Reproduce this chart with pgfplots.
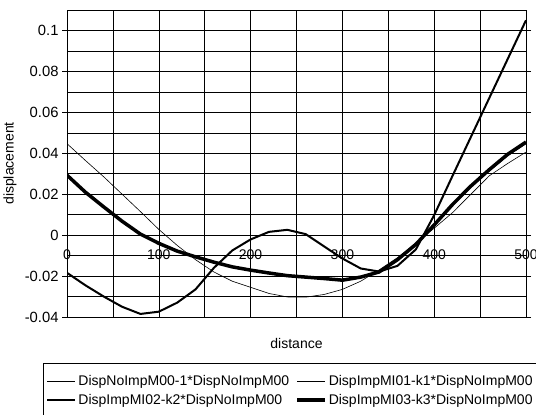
\documentclass[border=0pt]{standalone}
\usepackage{pgfplots}
\pgfplotsset{compat=1.18}
\usepackage{fontspec}
\setmainfont{Liberation Sans}
\begin{document}
\begin{tikzpicture}
\begin{axis}[
 width=459bp, height=307bp, scale only axis,
 xmin=0, xmax=500, ymin=-0.04, ymax=0.11,
 xtick={0,100,...,500}, minor x tick num=1,
 ytick={-0.04,-0.02,0,0.02,0.04,0.06,0.08,0.1}, minor y tick num=1,
 grid=both,
 major grid style={black, line width=0.6bp},
 minor grid style={black, line width=0.6bp},
 axis line style={black, line width=0.8bp},
 tick align=outside,
 xtick style={draw=none}, ytick style={black, line width=0.6bp},
 major tick length=5bp, minor tick length=0pt,
 /pgf/number format/assume math mode=true,
 xticklabel style={font=\fontsize{14bp}{16bp}\selectfont, anchor=center, yshift=67.5bp},
 yticklabel style={font=\fontsize{14.8bp}{17bp}\selectfont, /pgf/number format/fixed},
 xlabel={distance}, ylabel={displacement},
 label style={font=\fontsize{14bp}{16bp}\selectfont},
 xlabel style={at={(rel axis cs:0.5,-0.0847)}, anchor=center},
 ylabel style={at={(rel axis cs:-0.124,0.5)}, anchor=center},
 legend columns=2,
 legend cell align=left,
 legend image code/.code={\draw[#1] (0bp,0bp) -- (28bp,0bp);},
 legend style={at={(rel axis cs:-0.052,-0.150)}, anchor=north west,
   draw=black, line width=0.6bp, font=\fontsize{14bp}{16bp}\selectfont,
   inner ysep=10bp, row sep=3bp,
   /tikz/every even column/.append style={column sep=4bp}},
]
\coordinate (bbA) at (rel axis cs:-0.146,-0.316);
\coordinate (bbB) at (rel axis cs:1.0218,1.0326);
\addplot[black, line width=0.6bp] table {
x y
0 0.0447
20 0.0365
40 0.0285
60 0.0200
80 0.0115
100 0.0028
120 -0.0050
140 -0.0120
160 -0.0180
180 -0.0225
200 -0.0255
220 -0.0285
240 -0.0302
260 -0.0303
280 -0.0290
300 -0.0265
320 -0.0225
340 -0.0170
360 -0.0110
380 -0.0040
400 0.0034
420 0.0110
440 0.0200
460 0.0290
480 0.0350
500 0.0406
};
\addlegendentry{DispNoImpM00-1*DispNoImpM00}
\addplot[black, line width=1.0bp] table {
x y
0 0.0290
20 0.0208
40 0.0136
60 0.0066
80 0.0003
100 -0.0042
120 -0.0080
140 -0.0108
160 -0.0134
180 -0.0157
200 -0.0173
220 -0.0187
240 -0.0200
260 -0.0207
280 -0.0214
300 -0.0221
320 -0.0206
340 -0.0180
360 -0.0122
380 -0.0047
400 0.0047
420 0.0146
440 0.0235
460 0.0314
480 0.0388
500 0.0447
};
\addlegendentry{DispImpMI01-k1*DispNoImpM00}
\addplot[black, line width=2bp] table {
x y
0 -0.0184
20 -0.0245
40 -0.0300
60 -0.0350
80 -0.0385
100 -0.0374
120 -0.0330
140 -0.0265
160 -0.0160
180 -0.0075
200 -0.0021
220 0.0016
240 0.0026
260 0.0005
280 -0.0055
300 -0.0114
320 -0.0163
340 -0.0178
360 -0.0150
380 -0.0070
400 0.0098
420 0.0290
440 0.0480
460 0.0670
480 0.0860
500 0.1050
};
\addlegendentry{DispImpMI02-k2*DispNoImpM00}
\addplot[black, line width=3.5bp] table {
x y
0 0.0293
20 0.0210
40 0.0138
60 0.0068
80 0.0005
100 -0.0040
120 -0.0078
140 -0.0106
160 -0.0132
180 -0.0155
200 -0.0171
220 -0.0185
240 -0.0198
260 -0.0205
280 -0.0212
300 -0.0220
320 -0.0205
340 -0.0180
360 -0.0120
380 -0.0045
400 0.0050
420 0.0150
440 0.0240
460 0.0320
480 0.0395
500 0.0455
};
\addlegendentry{DispImpMI03-k3*DispNoImpM00}
\end{axis}
\pgfresetboundingbox
\useasboundingbox (bbA) rectangle (bbB);
\end{tikzpicture}
\end{document}
